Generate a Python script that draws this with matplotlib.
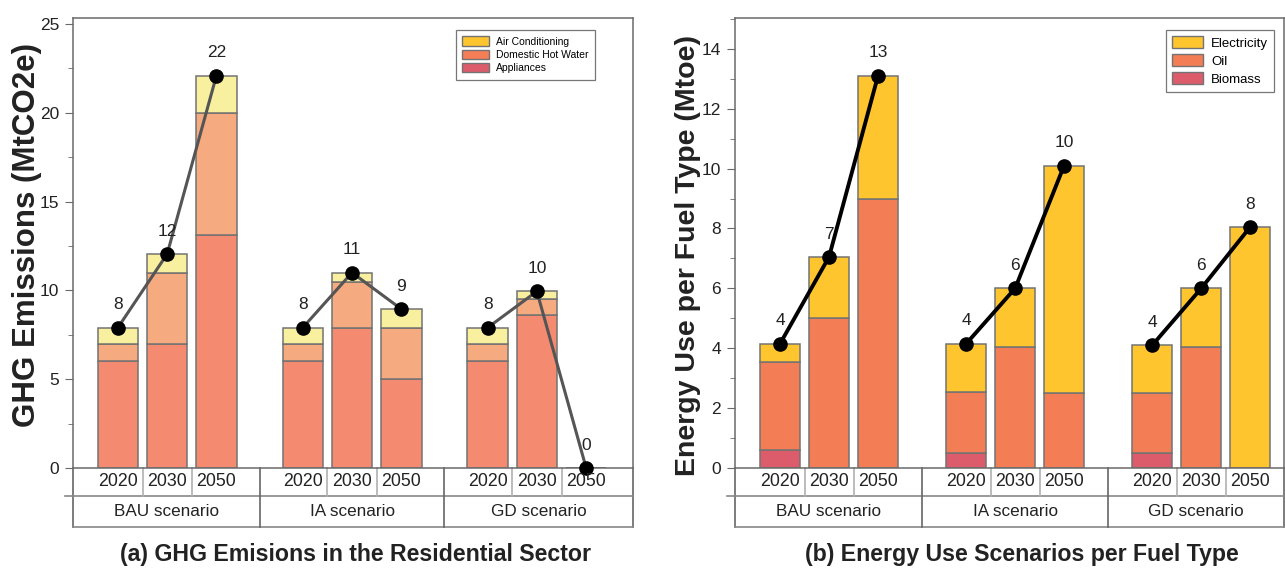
import matplotlib
matplotlib.use('Agg')
from matplotlib import pyplot as plt
from matplotlib.patches import Patch
import matplotlib.transforms as mtransforms
from matplotlib.ticker import MultipleLocator

plt.rcParams['font.family'] = ['Liberation Sans', 'DejaVu Sans']

years = ['2020', '2030', '2050'] * 3
scenarios = ['BAU scenario', 'IA scenario', 'GD scenario']

# (a) GHG emissions, MtCO2e
appliances = [6.0, 7.0, 13.1, 6.0, 7.9, 5.0, 6.0, 8.6, 0.0]
hot_water = [1.0, 4.0, 6.9, 1.0, 2.55, 2.9, 1.0, 0.9, 0.0]
air_cond = [0.9, 1.05, 2.1, 0.9, 0.55, 1.05, 0.9, 0.45, 0.0]

# (b) energy use, Mtoe
biomass = [0.6, 0.0, 0.0, 0.5, 0.0, 0.0, 0.5, 0.0, 0.0]
oil = [2.95, 5.0, 9.0, 2.05, 4.05, 2.5, 2.0, 4.05, 0.0]
electricity = [0.6, 2.05, 4.1, 1.6, 1.95, 7.6, 1.6, 1.95, 8.05]

TXT = '#222222'
EDGE = '#737373'
W, H = 1285, 572


def stacked(ax, xs, layers, colors):
    bottom = [0] * len(xs)
    for vals, c in zip(layers, colors):
        ax.bar(xs, vals, width=0.82, bottom=bottom, color=c,
               edgecolor=EDGE, linewidth=1.1, zorder=2)
        bottom = [b + v for b, v in zip(bottom, vals)]
    return bottom


def trend(ax, xs, tot, color, lw, dy):
    # one line per scenario, not across scenarios
    for g in range(3):
        ax.plot(xs[3 * g:3 * g + 3], tot[3 * g:3 * g + 3], color=color, lw=lw,
                zorder=3, clip_on=False, marker='o', ms=9.5,
                mfc='black', mec='black')
    for x, t in zip(xs, tot):
        ax.annotate(f'{round(t)}', (x, t), xytext=(0, dy), textcoords='offset points',
                    ha='center', va='center', fontsize=12.5, color=TXT)


def category_table(ax, xs, groups):
    tr = mtransforms.blended_transform_factory(ax.transData, ax.transAxes)
    x0, x1 = ax.get_xlim()
    r1, r2 = -0.062, -0.131
    kw = dict(transform=tr, clip_on=False, zorder=1)
    ax.plot([x0, x0], [0, r2], color='#666666', lw=1.2, **kw)
    ax.plot([x1, x1], [0, r2], color='#666666', lw=1.2, **kw)
    ax.plot([x0 - 0.17, x1], [r1, r1], color='#888888', lw=1.2, **kw)
    ax.plot([x0, x1], [r2, r2], color='#888888', lw=1.2, **kw)
    for g in range(len(groups)):
        gx = xs[3 * g:3 * g + 3]
        if g > 0:
            b = (xs[3 * g - 1] + gx[0]) / 2
            ax.plot([b, b], [0, r2], color='#666666', lw=1.2, **kw)
        for k in range(2):
            b = (gx[k] + gx[k + 1]) / 2
            ax.plot([b, b], [0, r1], color='#b0b0b0', lw=1.2, **kw)
        for k in range(3):
            ax.text(gx[k], r1 / 2, years[3 * g + k], transform=tr,
                    ha='center', va='center', fontsize=12.8, color=TXT)
        left = x0 if g == 0 else (xs[3 * g - 1] + gx[0]) / 2
        right = x1 if g == len(groups) - 1 else (gx[2] + xs[3 * g + 3]) / 2
        ax.text((left + right) / 2, (r1 + r2) / 2, groups[g], transform=tr,
                ha='center', va='center', fontsize=12.3, color=TXT)


def style(ax):
    for s in ax.spines.values():
        s.set_color('#6a6a6a')
        s.set_linewidth(1.1)
    ax.tick_params(axis='y', which='major', length=6, color='#6a6a6a',
                   labelsize=12.5, labelcolor=TXT, pad=4)
    ax.tick_params(axis='y', which='minor', length=3.5, color='#6a6a6a')
    ax.set_xticks([])


fig = plt.figure(figsize=(W / 100, H / 100), dpi=100)

# ---- (a) ----
ax1 = fig.add_axes([73 / W, 104 / H, 560 / W, 450 / H])
xa = [0, 1, 2, 3.75, 4.75, 5.75, 7.5, 8.5, 9.5]
ax1.set_xlim(-0.91, 10.45)
ax1.set_ylim(0, 25.34)
tot_a = stacked(ax1, xa, [appliances, hot_water, air_cond],
                ['#f48b70', '#f5aa80', '#f8ef9f'])
trend(ax1, xa, tot_a, '#555555', 2.2, 16.5)
ax1.yaxis.set_major_locator(MultipleLocator(5))
ax1.yaxis.set_minor_locator(MultipleLocator(2.5))
style(ax1)
category_table(ax1, xa, scenarios)
leg1 = ax1.legend(handles=[Patch(facecolor='#fec52e', edgecolor=EDGE, label='Air Conditioning'),
                           Patch(facecolor='#f47f56', edgecolor=EDGE, label='Domestic Hot Water'),
                           Patch(facecolor='#dd5c6c', edgecolor=EDGE, label='Appliances')],
                  loc='upper right', bbox_to_anchor=(0.932, 0.973), borderaxespad=0,
                  fontsize=7.5, frameon=True, fancybox=False, edgecolor='#555555',
                  handlelength=2.6, handleheight=1.0, labelspacing=0.3,
                  borderpad=0.6, handletextpad=0.7)
leg1.get_frame().set_linewidth(0.9)

# ---- (b) ----
ax2 = fig.add_axes([735 / W, 104 / H, 549 / W, 450 / H])
xb = [0, 1, 2, 3.8, 4.8, 5.8, 7.6, 8.6, 9.6]
ax2.set_xlim(-0.92, 10.29)
ax2.set_ylim(0, 15.03)
tot_b = stacked(ax2, xb, [biomass, oil, electricity],
                ['#dd5c6c', '#f37e56', '#fec52e'])
trend(ax2, xb, tot_b, 'black', 2.8, 16.5)
ax2.yaxis.set_major_locator(MultipleLocator(2))
ax2.yaxis.set_minor_locator(MultipleLocator(1))
style(ax2)
category_table(ax2, xb, scenarios)
leg2 = ax2.legend(handles=[Patch(facecolor='#fec52e', edgecolor=EDGE, label='Electricity'),
                           Patch(facecolor='#f37e56', edgecolor=EDGE, label='Oil'),
                           Patch(facecolor='#dd5c6c', edgecolor=EDGE, label='Biomass')],
                  loc='upper right', bbox_to_anchor=(0.982, 0.973), borderaxespad=0,
                  fontsize=9.5, frameon=True, fancybox=False, edgecolor='#555555',
                  handlelength=2.4, handleheight=1.0, labelspacing=0.35,
                  borderpad=0.45, handletextpad=0.6)
leg2.get_frame().set_linewidth(0.9)

fig.text(27 / W, 1 - 235 / H, 'GHG Emissions (MtCO2e)', rotation=90,
         ha='center', va='center', fontsize=22.5, fontweight='bold', color=TXT)
fig.text(688 / W, 1 - 255 / H, 'Energy Use per Fuel Type (Mtoe)', rotation=90,
         ha='center', va='center', fontsize=20.5, fontweight='bold', color=TXT)
fig.text(355 / W, 1 - 555 / H, '(a) GHG Emisions in the Residential Sector',
         ha='center', va='center', fontsize=16.7, fontweight='bold', color=TXT)
fig.text(1022 / W, 1 - 555 / H, '(b) Energy Use Scenarios per Fuel Type',
         ha='center', va='center', fontsize=16.7, fontweight='bold', color=TXT)

fig.savefig('out.png', dpi=100)
